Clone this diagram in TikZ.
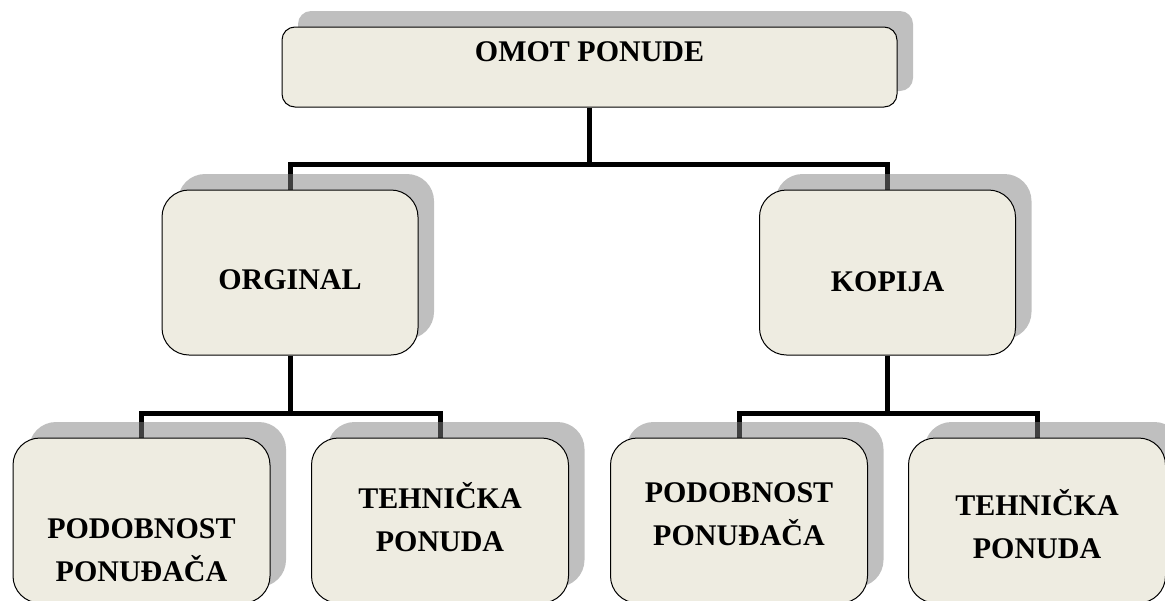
\documentclass[tikz,border=0pt]{standalone}
\usepackage{fontspec}
\setmainfont{Liberation Serif}
\usetikzlibrary{shadows}
\definecolor{boxfill}{HTML}{EEECE1}
\pgfdeclarelayer{back}
\pgfsetlayers{back,main}

\begin{document}
\begin{tikzpicture}[
    x=1pt, y=1pt,
    box/.style={draw=black, line width=1pt, fill=boxfill, rounded corners=27pt,
        copy shadow={shadow xshift=16pt, shadow yshift=16pt, draw=none, fill=gray, fill opacity=0.5}},
    topbox/.style={box, rounded corners=13pt, minimum width=615pt, minimum height=80pt},
    midbox/.style={box, minimum width=256pt, minimum height=165pt},
    lowbox/.style={box, minimum width=257pt, minimum height=165pt},
    txt/.style={font=\fontsize{30}{43}\selectfont\bfseries, align=center},
    conn/.style={line width=5pt},
]
\useasboundingbox (0,0) rectangle (1165,-600);
\node[topbox] (omot)   at (589.5,-67)   {};
\node[txt]    (omot-t) at (589.5,-52)   {OMOT PONUDE};
\node[midbox] (orig)   at (290,-272.5)  {};
\node[txt]    (orig-t) at (290,-280)    {ORGINAL};
\node[midbox] (kop)    at (887.5,-272.5) {};
\node[txt]    (kop-t)  at (887.5,-282)  {KOPIJA};
\node[lowbox] (pod1)   at (141.5,-520.5) {};
\node[txt]    (pod1-t) at (141.5,-550)  {PODOBNOST\\PONUĐAČA};
\node[lowbox] (teh1)   at (440,-520.5)  {};
\node[txt]    (teh1-t) at (440,-517)    {TEHNIČKA\\PONUDA};
\node[lowbox] (pod2)   at (739,-520.5)  {};
\node[txt]    (pod2-t) at (739,-514)    {PODOBNOST\\PONUĐAČA};
\node[lowbox] (teh2)   at (1037,-520.5) {};
\node[txt]    (teh2-t) at (1037,-524)   {TEHNIČKA\\PONUDA};
% connectors go under the shadows
\begin{pgfonlayer}{back}
\coordinate (j0) at (589.5,-164);
\coordinate (j1) at (290,-413);
\coordinate (j2) at (887.5,-413);
\draw[conn] (omot.south) -- (j0);
\draw[conn] (orig.north) |- (j0) -| (kop.north);
\draw[conn] (orig.south) -- (j1);
\draw[conn] (pod1.north) |- (j1) -| (teh1.north);
\draw[conn] (kop.south)  -- (j2);
\draw[conn] (pod2.north) |- (j2) -| (teh2.north);
\end{pgfonlayer}
\end{tikzpicture}
\end{document}
